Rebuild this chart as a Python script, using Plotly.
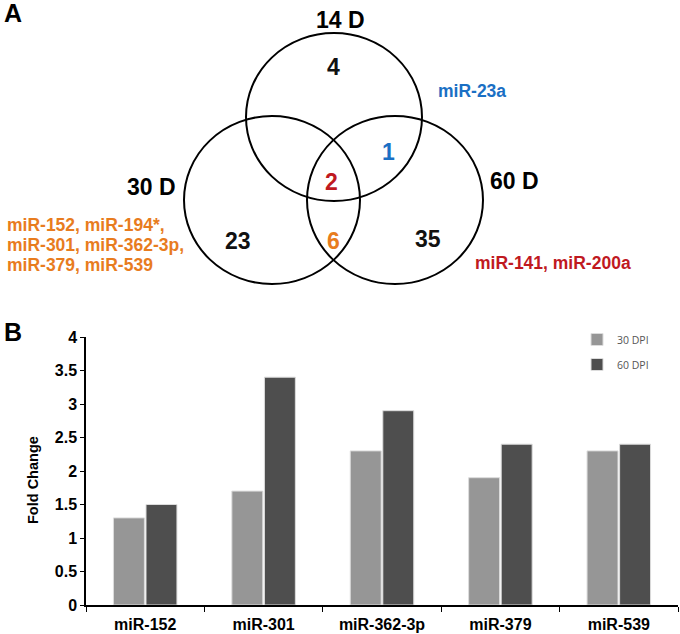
import plotly.graph_objects as go

# ---- Data ----
mirnas = ["miR-152", "miR-301", "miR-362-3p", "miR-379", "miR-539"]
dpi30 = [1.3, 1.7, 2.3, 1.9, 2.3]
dpi60 = [1.5, 3.4, 2.9, 2.4, 2.4]
series_names = ["30 DPI", "60 DPI"]

venn_sets = ["14 D", "30 D", "60 D"]
venn_regions = ["14 only", "30 only", "60 only", "14&60", "all", "30&60"]
venn_counts = [4, 23, 35, 1, 2, 6]
venn_region_colors = ["#111111", "#111111", "#111111", "#1a6fc4", "#c0191f", "#e87c1e"]
mir_14_60 = "miR-23a"
mir_all = "miR-141, miR-200a"
mir_30_60 = ["miR-152, miR-194*,", "miR-301, miR-362-3p,", "miR-379, miR-539"]

FONT = "Liberation Sans"
W, H = 680, 634

fig = go.Figure()

fig.add_trace(go.Bar(x=mirnas, y=dpi30, name=series_names[0], legendgroup="a",
                     marker=dict(color="#969696", line=dict(color="#dcdcdc", width=1))))
fig.add_trace(go.Bar(x=mirnas, y=dpi60, name=series_names[1], legendgroup="b",
                     marker=dict(color="#4e4e4e", line=dict(color="#dcdcdc", width=1))))

# Venn overlay axes (pixel-like coordinates)
fig.update_layout(
    xaxis2=dict(domain=[0, 1], range=[0, W], visible=False, anchor="y2",
                fixedrange=True, automargin=False),
    yaxis2=dict(domain=[0, 1], range=[H, 0], visible=False, anchor="x2",
                fixedrange=True, automargin=False),
)

circles = [(334, 117), (272, 200), (395, 200)]
rx, ry = 88, 84
for cx, cy in circles:
    fig.add_shape(type="circle", xref="x2", yref="y2", x0=cx - rx, x1=cx + rx,
                  y0=cy - ry, y1=cy + ry, line=dict(color="black", width=2))

# set labels
set_pos = [(340, 20), (151, 187), (514, 181)]
for name, (x, y) in zip(venn_sets, set_pos):
    fig.add_annotation(x=x, y=y, xref="x2", yref="y2", text=name, showarrow=False,
                       font=dict(family=FONT, size=23, color="black", weight="bold"))

count_pos = [(333, 67), (238, 241), (428, 239), (388, 152), (331, 182), (333, 241)]
for c, col, (x, y) in zip(venn_counts, venn_region_colors, count_pos):
    fig.add_annotation(x=x, y=y, xref="x2", yref="y2", text=str(c), showarrow=False,
                       font=dict(family=FONT, size=23, color=col, weight="bold"))

fig.add_annotation(x=436, y=91, xref="x2", yref="y2", text=mir_14_60, showarrow=False,
                   xanchor="left", font=dict(family=FONT, size=17.5, color="#1a6fc4", weight="bold"))
fig.add_annotation(x=473, y=263, xref="x2", yref="y2", text=mir_all, showarrow=False,
                   xanchor="left", font=dict(family=FONT, size=17.5, color="#c0191f", weight="bold"))
for i, line in enumerate(mir_30_60):
    fig.add_annotation(x=5, y=225 + 20 * i, xref="x2", yref="y2", text=line, showarrow=False,
                       xanchor="left", font=dict(family=FONT, size=17.5, color="#e87c1e", weight="bold"))

# panel letters
for letter, y in [("A", 13), ("B", 332)]:
    fig.add_annotation(x=13, y=y, xref="x2", yref="y2", text=letter, showarrow=False,
                       font=dict(family=FONT, size=25, color="black", weight="bold"))

# y axis title
fig.add_annotation(x=33, y=480, xref="x2", yref="y2", text="Fold Change", showarrow=False,
                   textangle=-90, font=dict(family=FONT, size=14.5, color="black", weight="bold"))

fig.update_layout(
    width=W, height=H,
    margin=dict(l=0, r=0, t=0, b=0, pad=0, autoexpand=False),
    paper_bgcolor="white", plot_bgcolor="rgba(0,0,0,0)",
    barmode="group", bargap=0.45, bargroupgap=0.05,
    showlegend=True,
    legend=dict(x=577 / W, y=1 - 325 / H, xanchor="left", yanchor="top",
                font=dict(family="Open Sans", size=10.5, color="#555555"),
                tracegroupgap=6, itemwidth=30, bgcolor="rgba(0,0,0,0)"),
    xaxis=dict(domain=[86 / W, 678 / W], anchor="y", showline=True, linecolor="black",
               linewidth=1.5, ticks="outside", tickson="boundaries", ticklen=5,
               tickcolor="black", showgrid=False, fixedrange=True, automargin=False,
               ticklabelstandoff=4,
               tickfont=dict(family=FONT, size=16, color="black", weight="bold")),
    yaxis=dict(domain=[(H - 605) / H, (H - 337) / H], anchor="x", range=[0, 4], dtick=0.5,
               showline=True, linecolor="black", linewidth=1.5, ticks="outside", ticklen=4,
               tickcolor="black", showgrid=False, zeroline=False, fixedrange=True,
               automargin=False,
               tickfont=dict(family=FONT, size=16, color="black", weight="bold")),
)

fig.write_html("out.html", config={"displayModeBar": False},
               post_script="document.body.style.margin='0';")
